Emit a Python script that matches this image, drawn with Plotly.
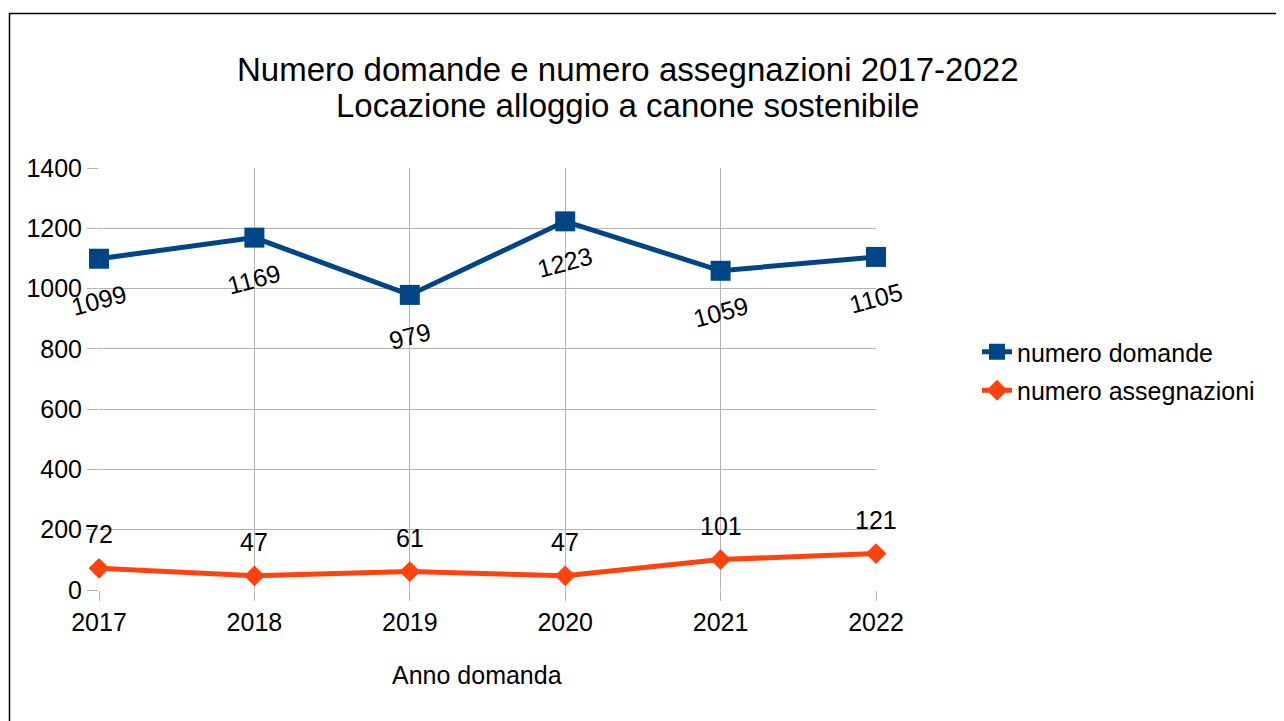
import plotly.graph_objects as go

anni = [2017, 2018, 2019, 2020, 2021, 2022]
numero_domande = [1099, 1169, 979, 1223, 1059, 1105]
numero_assegnazioni = [72, 47, 61, 47, 101, 121]
y_ticks = [0, 200, 400, 600, 800, 1000, 1200, 1400]
titolo = ["Numero domande e numero assegnazioni 2017-2022",
          "Locazione alloggio a canone sostenibile"]

BLUE = "#004586"
ORANGE = "#ff420e"
GRID = "#b3b3b3"
FONT = "Liberation Sans, Arial, sans-serif"

OFF = 8  # page body margin
W, H = 1284 - OFF, 721 - OFF
L, R, T, B = 99 - OFF, 876 - OFF, 168 - OFF, 590 - OFF  # plot area in pixels

def px_x(px):
    return (px - OFF - L) / (R - L)

def px_y(py):
    return (B - (py - OFF)) / (B - T)

fig = go.Figure()
fig.add_trace(go.Scatter(
    x=anni, y=numero_domande, name="numero domande", mode="lines+markers",
    line=dict(color=BLUE, width=5), marker=dict(symbol="square", size=20, color=BLUE),
    legendgroup="a"))
fig.add_trace(go.Scatter(
    x=anni, y=numero_assegnazioni, name="numero assegnazioni", mode="lines+markers",
    line=dict(color=ORANGE, width=5), marker=dict(symbol="diamond", size=16, color=ORANGE),
    legendgroup="b"))

annotations = []
for xv, yv in zip(anni, numero_domande):
    annotations.append(dict(x=xv, y=yv, xref="x", yref="y", text=str(yv), showarrow=False,
                            textangle=-15, yshift=-41, font=dict(size=25, color="black", family=FONT)))
for xv, yv in zip(anni, numero_assegnazioni):
    annotations.append(dict(x=xv, y=yv, xref="x", yref="y", text=str(yv), showarrow=False,
                            yshift=34, font=dict(size=25, color="black", family=FONT)))
annotations.append(dict(x=px_x(477), y=px_y(675), xref="paper", yref="paper", text="Anno domanda",
                        showarrow=False, xanchor="center", yanchor="middle",
                        font=dict(size=25, color="black", family=FONT)))
for txt, yc in zip(titolo, [70, 106]):
    annotations.append(dict(x=px_x(627.5), y=px_y(yc), xref="paper", yref="paper", text=txt,
                            showarrow=False, xanchor="center", yanchor="middle",
                            font=dict(size=33, color="black", family=FONT)))

fig.update_layout(
    width=W, height=H,
    margin=dict(l=L, r=W - R, t=T, b=H - B, autoexpand=False),
    paper_bgcolor="white", plot_bgcolor="white",
    font=dict(family=FONT, color="black"),
    xaxis=dict(range=[anni[0], anni[-1]], tickvals=anni, ticktext=[str(a) for a in anni],
               showgrid=True, gridcolor=GRID, gridwidth=1, zeroline=False,
               ticks="outside", ticklen=10, tickcolor=GRID, showline=False,
               tickfont=dict(size=25, color="black", family=FONT)),
    yaxis=dict(range=[0, 1400], tickvals=y_ticks, showgrid=True, gridcolor=GRID, gridwidth=1,
               zeroline=False, ticks="outside", ticklen=11, tickcolor=GRID, showline=False,
               tickfont=dict(size=25, color="black", family=FONT)),
    legend=dict(x=px_x(977), y=px_y(329), xanchor="left", yanchor="top",
                font=dict(size=25, color="black", family=FONT), tracegroupgap=3,
                bgcolor="rgba(0,0,0,0)"),
    annotations=annotations,
    shapes=[dict(type="rect", xref="paper", yref="paper",
                 x0=px_x(9.5), x1=px_x(1300), y0=px_y(13.5), y1=px_y(740),
                 line=dict(color="black", width=1.5), fillcolor="rgba(0,0,0,0)", layer="below")],
)
fig.update_traces(cliponaxis=False)

fig.write_html("out.html")
